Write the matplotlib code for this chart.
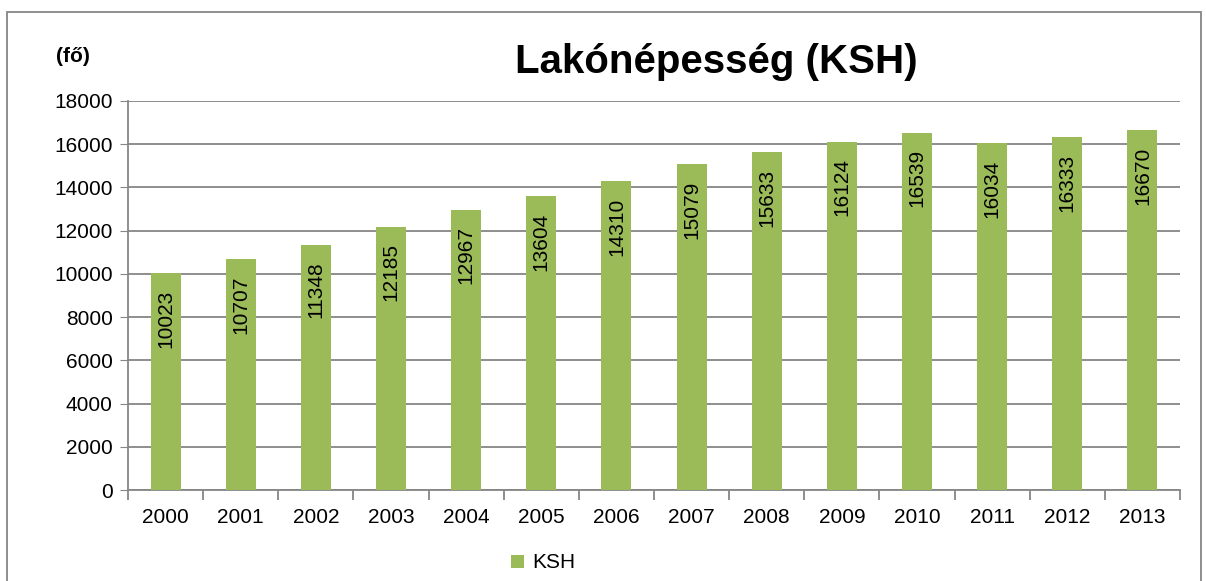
import matplotlib
matplotlib.use("Agg")
import matplotlib.pyplot as plt
from matplotlib.patches import Rectangle

plt.rcParams['font.family'] = ['Liberation Sans', 'DejaVu Sans']

years = ['2000', '2001', '2002', '2003', '2004', '2005', '2006',
         '2007', '2008', '2009', '2010', '2011', '2012', '2013']
ksh = [10023, 10707, 11348, 12185, 12967, 13604, 14310,
       15079, 15633, 16124, 16539, 16034, 16333, 16670]

green = '#9BBB59'
grey = '#868686'

fig = plt.figure(figsize=(12.06, 5.81), dpi=100)
ax = fig.add_axes([128 / 1206, 91 / 581, 1052 / 1206, 389 / 581])

x = range(len(years))
bars = ax.bar(x, ksh, width=0.4, color=green, label='KSH', zorder=3)

for xi, v in zip(x, ksh):
    ax.annotate(str(v), (xi, v), xytext=(0, -12), textcoords='offset points',
                rotation=90, ha='center', va='top', fontsize=15, zorder=4)

ax.set_xlim(-0.5, len(years) - 0.5)
ax.set_ylim(0, 18000)
ax.set_yticks(range(0, 18001, 2000))
ax.tick_params(axis='y', labelsize=15, length=6, color=grey, pad=5)
ax.yaxis.grid(True, color=grey, linewidth=1.3, zorder=0)

ax.set_xticks(x)
ax.set_xticklabels(years)
ax.tick_params(axis='x', labelsize=15, length=0, pad=13)
ax.set_xticks([i - 0.5 for i in range(len(years) + 1)], minor=True)
ax.tick_params(axis='x', which='minor', length=7, color=grey, width=1.3)

for s in ['top', 'right']:
    ax.spines[s].set_visible(False)
ax.spines['left'].set_color(grey)
ax.spines['left'].set_linewidth(1.3)
ax.spines['bottom'].set_color(grey)
ax.spines['bottom'].set_linewidth(1.3)

fig.text(716 / 1206, 1 - 62 / 581, 'Lakónépesség (KSH)', ha='center', va='center',
         fontsize=29, fontweight='bold')
fig.text(73 / 1206, 1 - 57 / 581, '(fő)', ha='center', va='center',
         fontsize=15, fontweight='bold')

fig.legend(handles=[bars], labels=['KSH'], loc='center', bbox_to_anchor=(543 / 1206, 1 - 563 / 581),
           frameon=False, fontsize=15, handlelength=0.6, handleheight=0.6, handletextpad=0.4)

fig.patches.append(Rectangle((7 / 1206, -0.05), 1194 / 1206, 1.05 - 12 / 581,
                             transform=fig.transFigure, fill=False, edgecolor=grey, linewidth=1.3))

fig.savefig('out.png', dpi=100)
